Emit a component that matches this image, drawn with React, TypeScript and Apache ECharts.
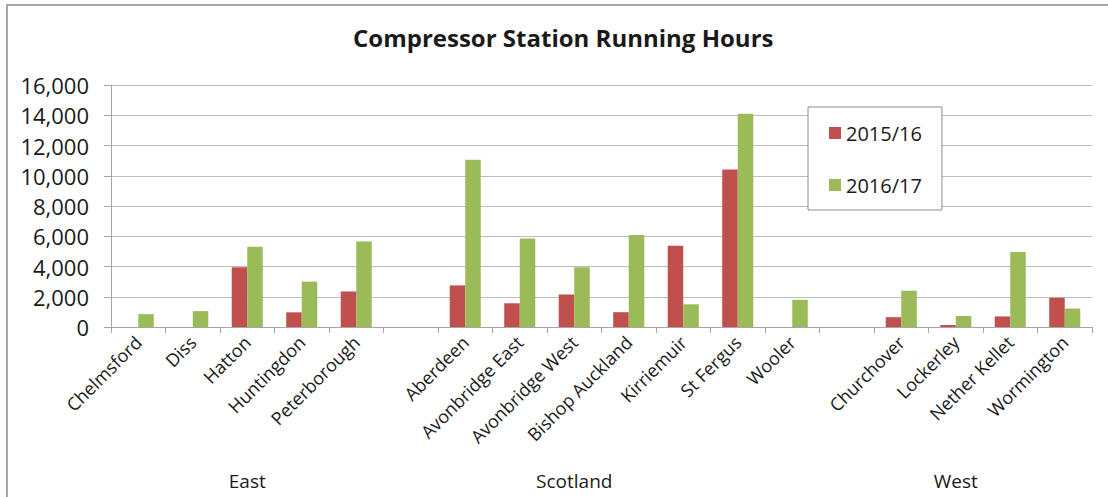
import React, { useEffect, useRef } from "react";
import * as echarts from "echarts";

// Stations, grouped by region; empty strings are spacer slots between regions
const stations = [
  "Chelmsford", "Diss", "Hatton", "Huntingdon", "Peterborough",
  "",
  "Aberdeen", "Avonbridge East", "Avonbridge West", "Bishop Auckland", "Kirriemuir", "St Fergus", "Wooler",
  "",
  "Churchover", "Lockerley", "Nether Kellet", "Wormington",
];

// Running hours per station (null = no running / spacer)
const hours2015 = [
  null, null, 3950, 970, 2350,
  null,
  2750, 1570, 2150, 980, 5380, 10420, null,
  null,
  650, 130, 700, 1930,
];
const hours2016 = [
  850, 1050, 5300, 3000, 5650,
  null,
  11050, 5850, 3950, 6080, 1500, 14100, 1800,
  null,
  2400, 730, 4960, 1220,
];

// Region names and the slot position (in category units) where each is centred
const regions = ["East", "Scotland", "West"];
const regionCentres = [2.5, 8.5, 15.5];

const yTicks = { min: 0, max: 16000, interval: 2000 };

const FONT = "'Open Sans', sans-serif";
const TEXT = "#1a1a1a";
const GRID = "#bcbcbc";

export default function App() {
  const ref = useRef<HTMLDivElement>(null);

  useEffect(() => {
    if (!ref.current) return;
    const chart = echarts.init(ref.current, null, { renderer: "svg" });

    chart.setOption({
      animation: false,
      backgroundColor: "#ffffff",
      textStyle: { fontFamily: FONT },
      title: {
        text: "Compressor Station Running Hours",
        left: 353,
        top: 25,
        padding: 0,
        textStyle: { fontFamily: FONT, fontSize: 24, fontWeight: "bold", color: TEXT },
      },
      legend: {
        left: 808,
        top: 107,
        orient: "vertical",
        icon: "rect",
        itemWidth: 12,
        itemHeight: 12,
        itemGap: 32,
        padding: [16, 20, 15, 21],
        borderColor: "#8c8c8c",
        borderWidth: 1,
        backgroundColor: "#ffffff",
        textStyle: { fontFamily: FONT, fontSize: 20, color: TEXT, lineHeight: 20, padding: [0, 0, 0, 0] },
        data: ["2015/16", "2016/17"],
      },
      grid: { left: 111, right: 16, top: 85, bottom: 170 },
      xAxis: [
        {
          type: "category",
          data: stations,
          boundaryGap: true,
          axisLine: { show: true, lineStyle: { color: "#a6a6a6", width: 1 } },
          axisTick: { show: true, length: 6, alignWithLabel: false, lineStyle: { color: "#a6a6a6" } },
          axisLabel: {
            interval: 0,
            rotate: 45,
            margin: 12,
            fontFamily: FONT,
            fontSize: 18,
            color: TEXT,
          },
        },
        {
          // Region labels beneath the station names
          type: "value",
          position: "bottom",
          offset: 140,
          min: 0,
          max: stations.length,
          interval: 0.5,
          axisLine: { show: false },
          axisTick: { show: false },
          splitLine: { show: false },
          axisLabel: {
            margin: 4,
            fontFamily: FONT,
            fontSize: 19,
            color: TEXT,
            formatter: (v: number) => {
              const i = regionCentres.findIndex((c) => Math.abs(c - v) < 1e-6);
              return i >= 0 ? regions[i] : "";
            },
          },
        },
      ],
      yAxis: {
        type: "value",
        min: yTicks.min,
        max: yTicks.max,
        interval: yTicks.interval,
        axisLine: { show: true, lineStyle: { color: "#a6a6a6" } },
        axisTick: { show: true, length: 7, lineStyle: { color: "#a6a6a6" } },
        splitLine: { show: true, lineStyle: { color: GRID, width: 1 } },
        axisLabel: {
          margin: 22,
          fontFamily: FONT,
          fontSize: 22,
          color: TEXT,
          formatter: (v: number) => v.toLocaleString("en-US"),
        },
      },
      series: [
        {
          name: "2015/16",
          type: "bar",
          data: hours2015,
          barGap: "0%",
          barCategoryGap: "43%",
          itemStyle: { color: "#C0504D" },
        },
        {
          name: "2016/17",
          type: "bar",
          data: hours2016,
          barGap: "0%",
          barCategoryGap: "43%",
          itemStyle: { color: "#9BBB59" },
        },
      ],
      graphic: [
        {
          type: "rect",
          silent: true,
          shape: { x: 7, y: 5, width: 1200, height: 600 },
          style: { fill: "none", stroke: "#8a8a8a", lineWidth: 1.5 },
        },
      ],
    });

    return () => chart.dispose();
  }, []);

  return (
    <div
      ref={ref}
      style={{ position: "fixed", left: 0, top: 0, width: 1108, height: 497 }}
    />
  );
}
